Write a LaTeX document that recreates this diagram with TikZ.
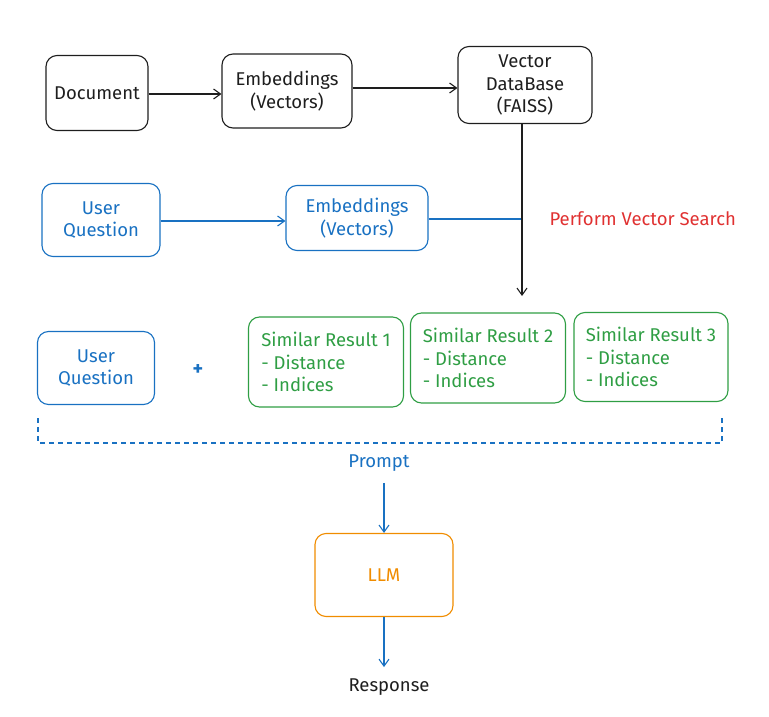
\documentclass[tikz,border=0pt]{standalone}
\usepackage{fontspec}
\setmainfont{Fira Sans}
\usetikzlibrary{positioning,arrows.meta}
\definecolor{inkblack}{RGB}{30,30,30}
\definecolor{qblue}{RGB}{25,113,194}
\definecolor{rgreen}{RGB}{47,158,68}
\definecolor{llmorange}{RGB}{240,140,0}
\definecolor{searchred}{RGB}{224,49,49}
\begin{document}
\begin{tikzpicture}[
  x=1pt,y=-1pt,
  font=\fontsize{18.5}{22.5}\selectfont,
  >={Straight Barb[length=7pt,width=10pt,line width=1.1pt]},
  box/.style={draw=inkblack,text=inkblack,rounded corners=11pt,align=center,line width=1.1pt,inner sep=3pt},
  qbox/.style={box,draw=qblue,text=qblue},
  resbox/.style={box,draw=rgreen,text=rgreen,align=left,minimum width=155pt,minimum height=90pt},
  llmbox/.style={box,draw=llmorange,text=llmorange},
  flow/.style={->,inkblack,line width=1.1pt},
  qflow/.style={->,qblue,line width=1.1pt},
]
\path[use as bounding box] (0,0) rectangle (769,717);
% ---- document row ----
\node[box,minimum width=102pt,minimum height=75pt] (doc) at (97,93) {Document};
\node[box,minimum width=130pt,minimum height=74pt] (emb) at (287,91) {Embeddings\\(Vectors)};
\node[box,minimum width=134pt,minimum height=77pt] (vdb) at (525,85) {Vector\\DataBase\\(FAISS)};
\draw[flow] (doc.east |- 0,94) -- (emb.west |- 0,94);
\draw[flow] (emb.east |- 0,88) -- (vdb.west |- 0,88);
% ---- question row ----
\node[qbox,minimum width=118pt,minimum height=73pt] (uq) at (101,220) {User\\Question};
\node[qbox,minimum width=142pt,minimum height=65pt] (qemb) at (357,218) {Embeddings\\(Vectors)};
\draw[qflow] (uq.east |- 0,221) -- (qemb.west |- 0,221);
% search line
\coordinate (meet) at (522,219);
\coordinate (hit) at (522,296);
\draw[qblue,line width=1.1pt] (qemb.east |- meet) -- (meet);
\draw[flow] (vdb.south -| meet) -- (hit);
\node[text=searchred,right=24pt of meet] (search) {Perform Vector Search};
% ---- prompt row ----
\node[qbox,minimum width=117pt,minimum height=73pt] (uq2) at (96,368) {User\\Question};
\node[text=qblue,font=\fontsize{20}{22}\selectfont\bfseries] (plus) at (198,370) {+};
\node[resbox] (res1) at (326,362) {Similar Result 1\\- Distance\\- Indices};
\node[resbox] (res2) at (488,358) {Similar Result 2\\- Distance\\- Indices};
\node[resbox,minimum width=154pt,minimum height=89pt] (res3) at (651,357) {Similar Result 3\\- Distance\\- Indices};
% bracket
\coordinate (brl) at (38,418);
\coordinate (brr) at (722,418);
\draw[qblue,line width=1.1pt,dash pattern=on 5pt off 4pt] (brl) -- ++(0,25) -| (brr);
\node[text=qblue] (prompt) at (379,463) {Prompt};
% ---- model ----
\node[llmbox,minimum width=138pt,minimum height=83pt] (llm) at (384,575) {LLM};
\draw[qflow] (prompt.south -| llm) ++(0,8) -- (llm.north);
\node[text=inkblack] (resp) at (389,687) {Response};
\draw[qflow] (llm.south) -- ++(0,50);
\end{tikzpicture}
\end{document}
